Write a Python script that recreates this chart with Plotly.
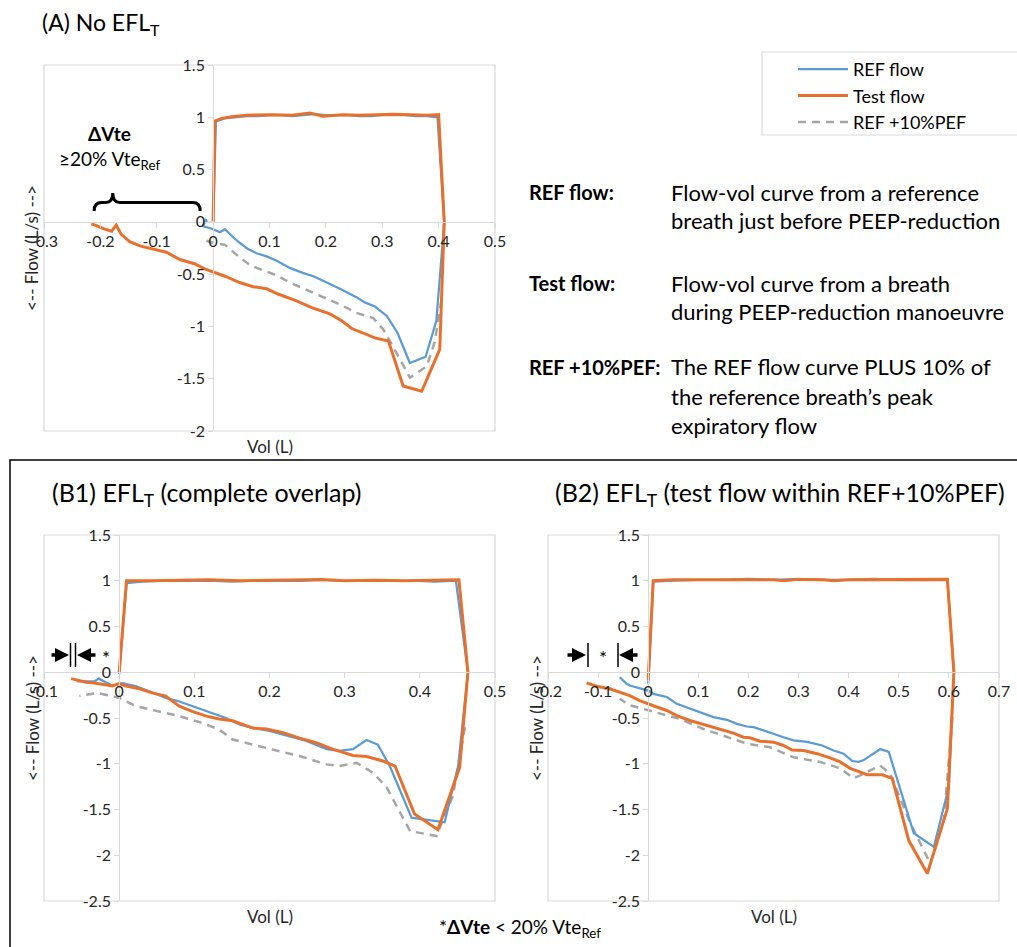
import plotly.graph_objects as go

W, H = 1017, 947
FONT = "Lato"
BLUE = "#5B9BD5"
ORANGE = "#E8702D"
GRAY = "#A5A5A5"
AXC = "#D9D9D9"

# ---------------- Panel A data ----------------
a_ref_x = [0, 0.005, 0.02, 0.04, 0.06, 0.08, 0.1, 0.12, 0.14, 0.16, 0.18, 0.2, 0.22, 0.24, 0.26, 0.28, 0.3, 0.32, 0.34, 0.36, 0.38, 0.398, 0.41,
           0.396, 0.377, 0.349, 0.327, 0.308, 0.287, 0.269, 0.254, 0.225, 0.201, 0.178, 0.160, 0.136, 0.112, 0.095, 0.077, 0.062, 0.047, 0.036, 0.021, 0.012, 0, -0.018, -0.014, -0.013, -0.011]
a_ref_y = [0, 0.96, 0.99, 1.0, 1.01, 1.01, 1.02, 1.02, 1.01, 1.02, 1.03, 1.02, 1.02, 1.02, 1.01, 1.01, 1.02, 1.02, 1.02, 1.01, 1.01, 1.0, 0.0,
           -0.946, -1.29, -1.35, -1.06, -0.90, -0.81, -0.77, -0.72, -0.64, -0.58, -0.52, -0.49, -0.44, -0.37, -0.33, -0.30, -0.26, -0.20, -0.15, -0.07, -0.10, -0.07, -0.04, 0.0, 0.03, -0.01]
a_test_x = [0, 0.003, 0.015, 0.033, 0.059, 0.107, 0.14, 0.172, 0.195, 0.23, 0.26, 0.29, 0.32, 0.35, 0.38, 0.4, 0.41,
            0.402, 0.37, 0.337, 0.311, 0.287, 0.266, 0.246, 0.228, 0.207, 0.175, 0.148, 0.115, 0.095, 0.071, 0.047, 0.021, 0, -0.015, -0.033, -0.059, -0.083, -0.112, -0.130, -0.148, -0.163, -0.172, -0.180, -0.192, -0.204, -0.216]
a_test_y = [0, 0.965, 0.99, 1.006, 1.02, 1.025, 1.02, 1.04, 1.01, 1.025, 1.02, 1.025, 1.03, 1.025, 1.02, 1.025, 0,
            -1.22, -1.62, -1.57, -1.14, -1.11, -1.06, -1.02, -0.946, -0.88, -0.82, -0.755, -0.69, -0.64, -0.62, -0.58, -0.52, -0.48, -0.45, -0.40, -0.36, -0.29, -0.25, -0.23, -0.19, -0.12, -0.03, -0.09, -0.07, -0.04, -0.016]
a_pef_x = [0.405, 0.393, 0.379, 0.349, 0.331, 0.302, 0.284, 0.254, 0.225, 0.195, 0.160, 0.136, 0.112, 0.077, 0.062, 0.047, 0.021, 0, -0.018]
a_pef_y = [-0.75, -1.15, -1.38, -1.49, -1.31, -1.03, -0.92, -0.87, -0.79, -0.72, -0.64, -0.58, -0.51, -0.44, -0.40, -0.34, -0.22, -0.20, -0.17]

# ---------------- Panel B1 data ----------------
b1_ref_x = [0, 0.0098, 0.03, 0.06, 0.09, 0.12, 0.15, 0.18, 0.21, 0.24, 0.27, 0.30, 0.33, 0.36, 0.39, 0.42, 0.448, 0.464,
            0.451, 0.433, 0.404, 0.389, 0.36, 0.344, 0.329, 0.311, 0.293, 0.276, 0.249, 0.222, 0.2, 0.178, 0.16, 0.142, 0.116, 0.098, 0.08, 0.062, 0.04, 0.022, 0.004, -0.009, -0.018, -0.027, -0.033, -0.044, -0.056]
b1_ref_y = [-0.02, 0.975, 0.99, 1.0, 1.0, 1.0, 0.99, 1.0, 1.0, 1.0, 1.01, 1.0, 1.0, 1.0, 1.0, 0.99, 1.0, 0,
            -1.025, -1.64, -1.61, -1.59, -1.025, -0.79, -0.74, -0.84, -0.86, -0.84, -0.75, -0.69, -0.64, -0.61, -0.57, -0.50, -0.425, -0.37, -0.32, -0.28, -0.21, -0.15, -0.12, -0.145, -0.11, -0.07, -0.10, -0.10, -0.10]
b1_test_x = [0, 0.0098, 0.04, 0.08, 0.12, 0.16, 0.2, 0.24, 0.27, 0.3, 0.34, 0.38, 0.42, 0.452, 0.464,
             0.453, 0.424, 0.393, 0.367, 0.351, 0.329, 0.311, 0.284, 0.262, 0.24, 0.218, 0.196, 0.178, 0.151, 0.133, 0.116, 0.098, 0.08, 0.062, 0.044, 0.027, 0.009, 0, -0.009, -0.018, -0.031, -0.044, -0.064]
b1_test_y = [0, 1.0, 1.0, 1.005, 1.01, 1.0, 1.005, 1.005, 1.015, 1.0, 1.005, 1.0, 1.01, 1.01, 0,
             -1.04, -1.72, -1.55, -1.025, -0.97, -0.92, -0.91, -0.84, -0.77, -0.72, -0.66, -0.62, -0.61, -0.53, -0.51, -0.48, -0.43, -0.37, -0.26, -0.225, -0.18, -0.15, -0.125, -0.15, -0.135, -0.12, -0.11, -0.07]
b1_pef_x = [0.46, 0.444, 0.422, 0.387, 0.356, 0.338, 0.316, 0.293, 0.276, 0.24, 0.204, 0.178, 0.151, 0.133, 0.107, 0.08, 0.049, 0.022, 0, -0.018, -0.029, -0.053]
b1_pef_y = [-0.6, -1.35, -1.79, -1.735, -1.26, -1.10, -0.99, -1.025, -1.007, -0.915, -0.845, -0.79, -0.735, -0.625, -0.545, -0.48, -0.425, -0.37, -0.28, -0.25, -0.225, -0.26]

# ---------------- Panel B2 data ----------------
b2_ref_x = [0, 0.01, 0.05, 0.1, 0.15, 0.2, 0.25, 0.3, 0.35, 0.4, 0.45, 0.5, 0.55, 0.597, 0.61,
            0.6, 0.57, 0.53, 0.48, 0.463, 0.43, 0.42, 0.407, 0.39, 0.37, 0.347, 0.317, 0.29, 0.27, 0.25, 0.23, 0.21, 0.197, 0.177, 0.157, 0.13, 0.103, 0.077, 0.057, 0.037, 0.023, 0.01, 0, -0.023, -0.037, -0.043, -0.05, -0.057]
b2_ref_y = [-0.127, 0.99, 1.0, 1.01, 1.01, 1.02, 1.01, 1.02, 1.01, 1.01, 1.02, 1.01, 1.01, 1.01, 0,
            -1.25, -1.91, -1.76, -0.87, -0.84, -0.96, -0.98, -0.97, -0.89, -0.855, -0.80, -0.76, -0.745, -0.71, -0.67, -0.636, -0.60, -0.593, -0.564, -0.52, -0.49, -0.436, -0.38, -0.345, -0.27, -0.255, -0.236, -0.20, -0.164, -0.145, -0.127, -0.09, -0.055]
b2_test_x = [0, 0.01, 0.05, 0.1, 0.15, 0.2, 0.25, 0.27, 0.3, 0.35, 0.37, 0.4, 0.45, 0.5, 0.55, 0.597, 0.61,
             0.597, 0.557, 0.52, 0.487, 0.467, 0.437, 0.403, 0.383, 0.363, 0.337, 0.31, 0.287, 0.27, 0.25, 0.223, 0.203, 0.19, 0.17, 0.143, 0.11, 0.083, 0.057, 0.037, 0.017, 0, -0.017, -0.037, -0.057, -0.077, -0.103, -0.123]
b2_test_y = [-0.08, 1.0, 1.01, 1.01, 1.015, 1.01, 1.01, 1.0, 1.015, 1.01, 1.0, 1.01, 1.01, 1.01, 1.015, 1.015, 0,
             -1.49, -2.2, -1.84, -1.16, -1.12, -1.12, -1.05, -0.98, -0.935, -0.89, -0.855, -0.85, -0.80, -0.764, -0.753, -0.716, -0.71, -0.665, -0.62, -0.57, -0.527, -0.473, -0.418, -0.38, -0.345, -0.31, -0.255, -0.218, -0.18, -0.153, -0.116]
b2_pef_x = [0.607, 0.59, 0.563, 0.523, 0.483, 0.463, 0.437, 0.41, 0.383, 0.343, 0.29, 0.243, 0.197, 0.157, 0.11, 0.063, 0.023, 0, -0.037, -0.057]
b2_pef_y = [-0.49, -1.62, -2.09, -1.65, -1.11, -1.02, -1.09, -1.16, -1.05, -0.98, -0.93, -0.82, -0.78, -0.71, -0.62, -0.51, -0.45, -0.42, -0.36, -0.29]

# ---------------- axis ticks ----------------
a_xticks = [-0.3, -0.2, -0.1, 0, 0.1, 0.2, 0.3, 0.4, 0.5]
a_xlabels = ["-0.3", "-0.2", "-0.1", "0", "0.1", "0.2", "0.3", "0.4", "0.5"]
a_yticks = [-2, -1.5, -1, -0.5, 0, 0.5, 1, 1.5]
a_ylabels = ["-2", "-1.5", "-1", "-0.5", "0", "0.5", "1", "1.5"]
b1_xticks = [-0.1, 0, 0.1, 0.2, 0.3, 0.4, 0.5]
b1_xlabels = ["-0.1", "0", "0.1", "0.2", "0.3", "0.4", "0.5"]
b2_xticks = [-0.2, -0.1, 0, 0.1, 0.2, 0.3, 0.4, 0.5, 0.6, 0.7]
b2_xlabels = ["-0.2", "-0.1", "0", "0.1", "0.2", "0.3", "0.4", "0.5", "0.6", "0.7"]
b_yticks = [-2.5, -2, -1.5, -1, -0.5, 0, 0.5, 1, 1.5]
b_ylabels = ["-2.5", "-2", "-1.5", "-1", "-0.5", "0", "0.5", "1", "1.5"]

series_names = ["REF flow", "Test flow", "REF +10%PEF"]


def px(x):
    return x / W


def py(y):
    return 1 - y / H


def note(text, x, y, size, xanchor="center", color="black", **kw):
    return dict(text=text, xref="paper", yref="paper", x=px(x), y=py(y), xanchor=xanchor,
                yanchor="middle", showarrow=False, font=dict(family=FONT, size=size, color=color), **kw)


panels = [
    dict(xa="x", ya="y", xdom=[44, 495], ydom=[431, 65], xr=[-0.3, 0.5], yr=[-2, 1.5],
         xt=a_xticks, xl=a_xlabels, yt=a_yticks, yl=a_ylabels,
         ref=(a_ref_x, a_ref_y), test=(a_test_x, a_test_y), pef=(a_pef_x, a_pef_y), legend=True),
    dict(xa="x2", ya="y2", xdom=[44, 495], ydom=[901, 535], xr=[-0.1, 0.5], yr=[-2.5, 1.5],
         xt=b1_xticks, xl=b1_xlabels, yt=b_yticks, yl=b_ylabels,
         ref=(b1_ref_x, b1_ref_y), test=(b1_test_x, b1_test_y), pef=(b1_pef_x, b1_pef_y), legend=False),
    dict(xa="x3", ya="y3", xdom=[548, 999], ydom=[901, 535], xr=[-0.2, 0.7], yr=[-2.5, 1.5],
         xt=b2_xticks, xl=b2_xlabels, yt=b_yticks, yl=b_ylabels,
         ref=(b2_ref_x, b2_ref_y), test=(b2_test_x, b2_test_y), pef=(b2_pef_x, b2_pef_y), legend=False),
]

fig = go.Figure()
shapes = []
annotations = []
layout_axes = {}

for i, p in enumerate(panels):
    fig.add_trace(go.Scatter(x=p["pef"][0], y=p["pef"][1], mode="lines", name=series_names[2],
                             line=dict(color=GRAY, width=2.5, dash="8px,6px"), legendgroup="g3",
                             xaxis=p["xa"], yaxis=p["ya"], showlegend=p["legend"], legendrank=3))
    fig.add_trace(go.Scatter(x=p["ref"][0], y=p["ref"][1], mode="lines", name=series_names[0],
                             line=dict(color=BLUE, width=2.25), legendgroup="g1",
                             xaxis=p["xa"], yaxis=p["ya"], showlegend=p["legend"], legendrank=1))
    fig.add_trace(go.Scatter(x=p["test"][0], y=p["test"][1], mode="lines", name=series_names[1],
                             line=dict(color=ORANGE, width=3), legendgroup="g2",
                             xaxis=p["xa"], yaxis=p["ya"], showlegend=p["legend"], legendrank=2))

    xd = [px(p["xdom"][0]), px(p["xdom"][1])]
    yd = [py(p["ydom"][0]), py(p["ydom"][1])]
    xr, yr = p["xr"], p["yr"]
    x0pos = xd[0] + (0 - xr[0]) / (xr[1] - xr[0]) * (xd[1] - xd[0])
    y0pos = yd[0] + (0 - yr[0]) / (yr[1] - yr[0]) * (yd[1] - yd[0])
    suffix = "" if i == 0 else str(i + 1)
    layout_axes["xaxis" + suffix] = dict(
        domain=xd, range=xr, anchor="free", position=y0pos, showgrid=False, zeroline=False,
        showline=True, linecolor=AXC, linewidth=1, ticks="outside", ticklen=5, tickcolor=AXC,
        tickvals=p["xt"], ticktext=p["xl"], tickfont=dict(family=FONT, size=16, color="#262626"),
        fixedrange=True, automargin=False)
    layout_axes["yaxis" + suffix] = dict(
        domain=yd, range=yr, anchor="free", position=x0pos, showgrid=False, zeroline=False,
        showline=True, linecolor=AXC, linewidth=1, ticks="outside", ticklen=5, tickcolor=AXC,
        tickvals=p["yt"], ticktext=p["yl"], tickfont=dict(family=FONT, size=16, color="#262626"),
        fixedrange=True, automargin=False)
    # plot-area frame
    shapes.append(dict(type="rect", xref="paper", yref="paper", x0=xd[0], x1=xd[1], y0=yd[0], y1=yd[1],
                       line=dict(color=AXC, width=1.2), layer="below"))
    # axis titles
    cx = (p["xdom"][0] + p["xdom"][1]) / 2
    cy = (p["ydom"][0] + p["ydom"][1]) / 2
    annotations.append(note("Vol (L)", cx, p["ydom"][0] + 15, 17, color="#262626"))
    annotations.append(note("&lt;-- Flow (L/s) --&gt;", p["xdom"][0] - 12, cy, 17, color="#262626", textangle=-90))

# titles
annotations.append(note("(A) No EFL<sub>T</sub>", 40, 24, 23, xanchor="left"))
annotations.append(note("(B1) EFL<sub>T</sub> (complete overlap)", 50, 494, 25, xanchor="left"))
annotations.append(note("(B2) EFL<sub>T</sub> (test flow within REF+10%PEF)", 553, 494, 25, xanchor="left"))

# explanation text on the right
labels_bold = [("<b>REF flow:</b>", 527, 192), ("<b>Test flow:</b>", 527, 283), ("<b>REF +10%PEF:</b>", 527, 367)]
desc = [
    ("Flow-vol curve from a reference", 669, 192), ("breath just before PEEP-reduction", 669, 220),
    ("Flow-vol curve from a breath", 669, 283), ("during PEEP-reduction manoeuvre", 669, 311),
    ("The REF flow curve PLUS 10% of", 669, 367), ("the reference breath\u2019s peak", 669, 396),
    ("expiratory flow", 669, 425),
]
for t, xx, yy in labels_bold:
    annotations.append(note(t, xx, yy, 20, xanchor="left"))
for t, xx, yy in desc:
    annotations.append(note(t, xx, yy, 22, xanchor="left"))

# Delta Vte labels
annotations.append(note("<b>\u0394Vte</b>", 109, 133, 19))
annotations.append(note("\u226520% Vte<sub>Ref</sub>", 109, 160, 19))
annotations.append(note("*<b>\u0394Vte</b> &lt; 20% Vte<sub>Ref</sub>", 520, 928, 19))

# brace in panel A (data coords of panel A)
shapes.append(dict(type="path", xref="x", yref="y",
                   path="M -0.211,0.105 Q -0.211,0.185 -0.198,0.185 L -0.19,0.185 Q -0.178,0.185 -0.178,0.275 "
                        "Q -0.178,0.185 -0.166,0.185 L -0.036,0.185 Q -0.023,0.185 -0.023,0.105",
                   line=dict(color="black", width=3)))

# arrow markers in B panels
def arrow(head_x, tail_x, yy):
    annotations.append(dict(text="", xref="paper", yref="paper", x=px(head_x), y=py(yy),
                            ax=tail_x - head_x, ay=0, showarrow=True, arrowhead=2, arrowsize=0.8,
                            arrowwidth=3.5, arrowcolor="black", standoff=0))

def bar(xx):
    shapes.append(dict(type="line", xref="paper", yref="paper", x0=px(xx), x1=px(xx), y0=py(643), y1=py(667),
                       line=dict(color="black", width=1.5)))

arrow(69, 50, 655); arrow(77, 97, 655); bar(70.5); bar(75.5)
annotations.append(note("*", 106, 657, 19))
arrow(586, 566, 655); arrow(619, 639, 655); bar(588); bar(618)
annotations.append(note("*", 603, 657, 19))

# black frame around B panels
shapes.append(dict(type="rect", xref="paper", yref="paper", x0=px(10), x1=px(1030), y0=py(960), y1=py(460),
                   line=dict(color="black", width=1.5)))
# legend frame
shapes.append(dict(type="rect", xref="paper", yref="paper", x0=px(762), x1=px(1030), y0=py(135), y1=py(52),
                   line=dict(color=AXC, width=1.2)))

fig.update_layout(
    width=W, height=H, margin=dict(l=0, r=0, t=0, b=0, pad=0, autoexpand=False),
    paper_bgcolor="white", plot_bgcolor="white",
    font=dict(family=FONT, color="black"),
    shapes=shapes, annotations=annotations,
    legend=dict(x=px(793), y=py(51), xanchor="left", yanchor="top", borderwidth=0,
                bgcolor="rgba(0,0,0,0)", font=dict(family=FONT, size=18, color="black"), itemwidth=50,
                traceorder="grouped", tracegroupgap=0),
    **layout_axes,
)

fig.write_html("out.html",
               post_script="document.body.style.margin='0px';document.body.style.padding='0px';")
